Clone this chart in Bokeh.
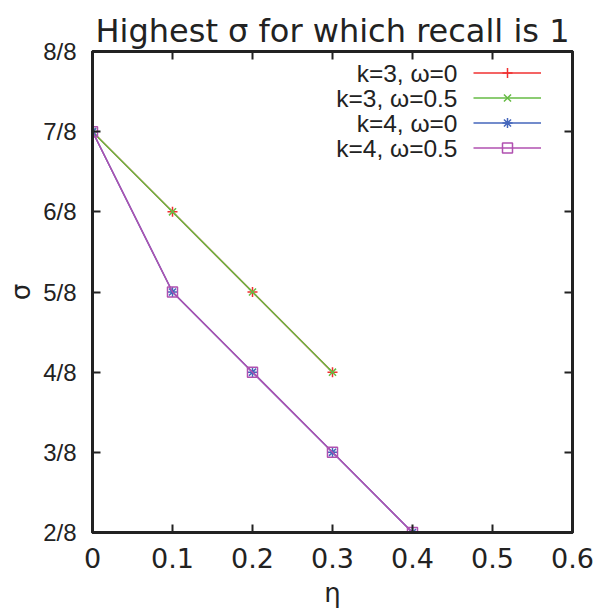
from bokeh.plotting import figure
from bokeh.models import Range1d, FixedTicker, LinearAxis, Legend, LegendItem, Label
from bokeh.embed import file_html
from bokeh.resources import INLINE

# ---- data ----
eta_k3 = [0.0, 0.1, 0.2, 0.3]
sigma_k3_w0 = [7/8, 6/8, 5/8, 4/8]
sigma_k3_w05 = [7/8, 6/8, 5/8, 4/8]
eta_k4 = [0.0, 0.1, 0.2, 0.3, 0.4]
sigma_k4_w0 = [7/8, 5/8, 4/8, 3/8, 2/8]
sigma_k4_w05 = [7/8, 5/8, 4/8, 3/8, 2/8]

x_ticks = [0.0, 0.1, 0.2, 0.3, 0.4, 0.5, 0.6]
x_tick_labels = ["0", "0.1", "0.2", "0.3", "0.4", "0.5", "0.6"]
y_ticks = [2/8, 3/8, 4/8, 5/8, 6/8, 7/8, 8/8]
y_tick_labels = ["2/8", "3/8", "4/8", "5/8", "6/8", "7/8", "8/8"]

series_labels = ["k=3, \u03c9=0", "k=3, \u03c9=0.5", "k=4, \u03c9=0", "k=4, \u03c9=0.5"]

AX = "#222222"
FRAME_H = 613 - 51 - 81
p = figure(width=598, height=613, output_backend="svg", toolbar_location=None,
           x_range=Range1d(0, 0.6), y_range=Range1d(0.25, 1.0),
           min_border_left=92, min_border_right=26, min_border_top=51, min_border_bottom=81)
p.title.text = "Highest \u03c3 for which recall is 1"
p.title.text_font = "DejaVu Sans"
p.title.text_font_size = "32px"
p.title.text_font_style = "normal"
p.title.align = "center"
p.title.vertical_align = "top"
p.title.text_line_height = 0.8
p.title.text_color = AX
p.title.offset = 0
p.title.standoff = 0

p.grid.visible = False
p.outline_line_color = AX
p.outline_line_width = 3
p.background_fill_color = "white"
p.border_fill_color = "white"

xa = p.xaxis[0]
ya = p.yaxis[0]
xa.ticker = FixedTicker(ticks=x_ticks)
ya.ticker = FixedTicker(ticks=y_ticks)
xa.major_label_overrides = {t: l for t, l in zip(x_ticks, x_tick_labels)}
ya.major_label_overrides = {t: l for t, l in zip(y_ticks, y_tick_labels)}
for ax in (xa, ya):
    ax.major_tick_in = 8
    ax.major_tick_out = 0
    ax.minor_tick_line_color = None
    ax.axis_line_color = AX
    ax.axis_line_width = 3
    ax.major_tick_line_color = AX
    ax.major_tick_line_width = 2
    ax.major_label_text_color = AX
    ax.axis_label_text_color = AX
    ax.axis_label_text_font_style = "normal"
    ax.axis_label_text_font_size = "26px"
    ax.axis_label_text_font = "DejaVu Sans"
xa.major_label_text_font = "DejaVu Sans"
xa.major_label_text_font_size = "27px"
xa.major_label_standoff = 15
xa.axis_label = "\u03b7"
xa.axis_label_standoff = 7
ya.major_label_text_font = "Liberation Sans"
ya.major_label_text_font_size = "24px"
ya.major_label_standoff = 16
ya.axis_label = "\u03c3"
ya.axis_label_standoff = 4

top = LinearAxis(ticker=FixedTicker(ticks=x_ticks), major_label_text_font_size="0px",
                 major_tick_in=8, major_tick_out=0, minor_tick_line_color=None,
                 axis_line_color=AX, axis_line_width=3, major_tick_line_color=AX,
                 major_tick_line_width=2, major_label_standoff=0)
right = LinearAxis(ticker=FixedTicker(ticks=y_ticks), major_label_text_font_size="0px",
                   major_tick_in=8, major_tick_out=0, minor_tick_line_color=None,
                   axis_line_color=AX, axis_line_width=3, major_tick_line_color=AX,
                   major_tick_line_width=2, major_label_standoff=0)
top.major_label_text_color = None
right.major_label_text_color = None
p.add_layout(top, "above")
p.add_layout(right, "right")

colors = ["#f03030", "#66bb44", "#4466bb", "#b050b0"]
data = [(eta_k3, sigma_k3_w0), (eta_k3, sigma_k3_w05), (eta_k4, sigma_k4_w0), (eta_k4, sigma_k4_w05)]
markers = ["cross", "x", "asterisk", "square"]

# legend in gnuplot style: right-aligned text, then line sample
ROW = 25
LEG_TOP = 9          # px below frame top
SAMPLE_LEFT = 381    # px from frame left
TEXT_RIGHT = 365     # px from frame left

items = []
for (xs, ys), c, m in zip(data, colors, markers):
    r1 = p.line(xs, ys, line_color=c, line_width=1.5)
    r2 = p.scatter(xs, ys, marker=m, size=10, line_color=c, fill_color=None, line_width=1.5)
    items.append(LegendItem(label=" ", renderers=[r1, r2]))

leg = Legend(items=items, location=(SAMPLE_LEFT, FRAME_H - LEG_TOP - ROW * len(items)))
leg.background_fill_alpha = 0
leg.border_line_color = None
leg.label_text_font_size = "8px"
leg.label_width = 0
leg.label_standoff = 0
leg.glyph_width = 68
leg.glyph_height = ROW
leg.label_height = ROW
leg.spacing = 0
leg.padding = 0
leg.margin = 0
p.add_layout(leg)

for i, lab in enumerate(series_labels):
    p.add_layout(Label(x=TEXT_RIGHT, y=FRAME_H - LEG_TOP - ROW * i - ROW / 2,
                       x_units="screen", y_units="screen", text=lab,
                       text_align="right", text_baseline="middle",
                       text_font="Liberation Sans", text_font_size="24.5px",
                       text_color=AX))

open("out.html", "w").write(file_html(p, INLINE))
